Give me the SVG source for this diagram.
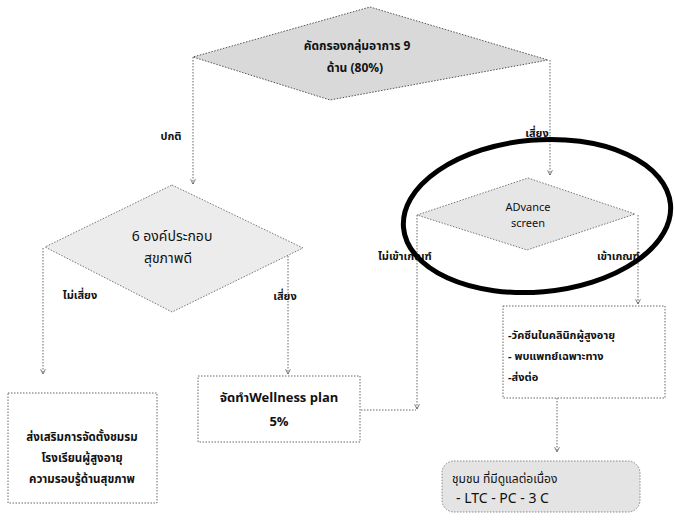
<svg xmlns="http://www.w3.org/2000/svg" width="675" height="524" viewBox="0 0 675 524">
<style>
text{font-family:"Noto Sans Thai","Noto Sans","DejaVu Sans","Liberation Sans",sans-serif;fill:#111}
.b{font-weight:bold}
.conn{fill:none;stroke:#666;stroke-width:1;stroke-dasharray:1.5 1.5}
.box{fill:#fff;stroke:#666;stroke-width:1;stroke-dasharray:1.5 1.5}
.dia{fill:#d9d9d9;stroke:#555;stroke-width:1;stroke-dasharray:1.5 1.5}
.dia2{fill:#ececec;stroke:#777;stroke-width:1;stroke-dasharray:1.5 1.5}
.lbl{font-size:11px;font-weight:bold}
</style>
<defs>
<marker id="ar" viewBox="0 0 10 10" refX="9" refY="5" markerWidth="6" markerHeight="6" orient="auto-start-reverse">
<path d="M1,1 L9,5 L1,9" fill="none" stroke="#555" stroke-width="1.3"/>
</marker>
</defs>
<rect width="675" height="524" fill="#fff"/>

<g id="connectors">
<path class="conn" d="M193,57 V184" marker-end="url(#ar)"/>
<path class="conn" d="M550,60 V175" marker-end="url(#ar)"/>
<path class="conn" d="M43,248 V374" marker-end="url(#ar)"/>
<path class="conn" d="M288,250 V374" marker-end="url(#ar)"/>
<path class="conn" d="M417,215 V409" marker-end="url(#ar)"/>
<path class="conn" d="M361,410 H416"/>
<path class="conn" d="M638,215 V304" marker-end="url(#ar)"/>
<path class="conn" d="M557,398 V452" marker-end="url(#ar)"/>
<text class="lbl" x="171" y="140" text-anchor="middle" font-size="13">ปกติ</text>
<text class="lbl" x="537" y="137" text-anchor="middle">เสี่ยง</text>
<text class="lbl" x="80" y="299" text-anchor="middle" font-size="12">ไม่เสี่ยง</text>
<text class="lbl" x="285" y="300" text-anchor="middle" font-size="10">เสี่ยง</text>
<text x="244" y="271" text-anchor="middle" font-size="8" class="b">10%</text>
<text class="lbl" x="378" y="260" font-size="10">ไม่เข้าเกณฑ์</text>
<text class="lbl" x="597" y="260" font-size="10">เข้าเกณฑ์</text>
</g>

<g id="n-screen9">
<polygon class="dia" points="370,7 548,60 330,100 193,57"/>
<text class="b" x="357" y="50" text-anchor="middle" font-size="12">คัดกรองกลุ่มอาการ 9</text>
<text class="b" x="355" y="72" text-anchor="middle" font-size="12">ด้าน (80%)</text>
</g>

<g id="n-health6">
<polygon class="dia2" points="172,185 303,248 172,312 45,247"/>
<text x="172" y="241" text-anchor="middle" font-size="14">6 องค์ประกอบ</text>
<text x="168" y="263" text-anchor="middle" font-size="14">สุขภาพดี</text>
</g>

<g id="n-advance">
<polygon class="dia2" points="528,178 635,214 527,250 417,215" style="fill:#e6e6e6"/>
<text x="528" y="211" text-anchor="middle" font-size="11">ADvance</text>
<text x="528" y="227" text-anchor="middle" font-size="11">screen</text>
</g>

<g id="n-promote">
<rect class="box" x="8" y="393" width="149" height="110"/>
<text class="b" x="82" y="441" text-anchor="middle" font-size="11.5">ส่งเสริมการจัดตั้งชมรม</text>
<text class="b" x="82" y="462" text-anchor="middle" font-size="11.5">โรงเรียนผู้สูงอายุ</text>
<text class="b" x="82" y="483" text-anchor="middle" font-size="11.5">ความรอบรู้ด้านสุขภาพ</text>
</g>

<g id="n-wellness">
<rect class="box" x="198" y="376" width="162" height="66"/>
<text class="b" x="279" y="402" text-anchor="middle" font-size="13">จัดทำWellness plan</text>
<text class="b" x="279" y="426" text-anchor="middle" font-size="13">5%</text>
</g>

<g id="n-refer">
<rect class="box" x="503" y="306" width="162" height="92"/>
<text class="b" x="508" y="339" font-size="11">-วัคซีนในคลินิกผู้สูงอายุ</text>
<text class="b" x="508" y="360" font-size="11">- พบแพทย์เฉพาะทาง</text>
<text class="b" x="508" y="381" font-size="11">-ส่งต่อ</text>
</g>

<g id="n-community">
<rect x="442" y="461" width="198" height="51" rx="12" fill="#e4e4e4" stroke="#888" stroke-width="1" stroke-dasharray="1.5 1.5"/>
<text x="452" y="483" font-size="12">ชุมชน ที่มีดูแลต่อเนื่อง</text>
<text x="456" y="503" font-size="14">- LTC - PC - 3 C</text>
</g>

<g id="highlight">
<ellipse cx="537" cy="216" rx="134" ry="76" transform="rotate(-5 537 216)" fill="none" stroke="#000" stroke-width="5"/>
</g>
</svg>
